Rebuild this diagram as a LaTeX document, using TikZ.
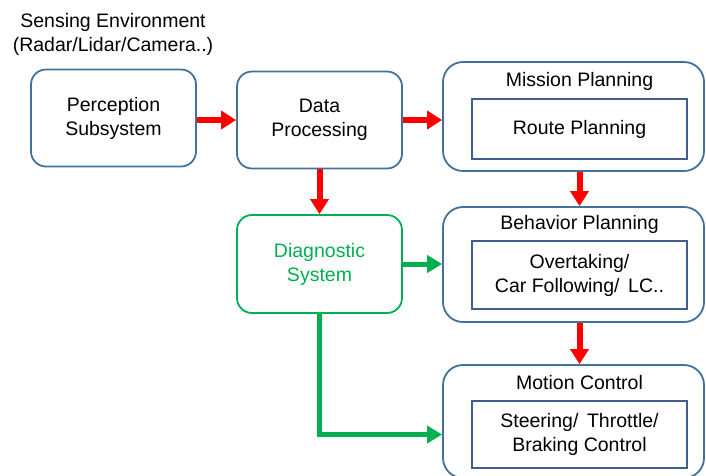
\documentclass[tikz,border=0pt]{standalone}
\usepackage{fontspec}
\setmainfont{Liberation Sans}
\usetikzlibrary{arrows.meta,positioning}

\definecolor{boxblue}{HTML}{41719C}
\definecolor{innerblue}{HTML}{3F5F8C}
\definecolor{flowred}{HTML}{FF0000}
\definecolor{diaggreen}{HTML}{00B050}

\tikzset{
  txt/.style={font=\fontsize{19.5}{24}\selectfont, align=center, text=black},
  block/.style={draw=boxblue, line width=1.8pt, rounded corners=15pt,
    minimum width=165pt, minimum height=97pt, txt},
  outer/.style={draw=boxblue, line width=1.8pt, rounded corners=20pt,
    minimum width=261pt},
  inner/.style={draw=innerblue, line width=2.2pt, minimum width=215pt, txt},
  redflow/.style={draw=flowred, line width=6pt,
    -{Triangle[length=15pt,width=18pt]}},
  greenflow/.style={draw=diaggreen, line width=5pt,
    -{Triangle[length=15pt,width=17pt]}},
}

\begin{document}
\begin{tikzpicture}[x=1pt,y=-1pt]
\useasboundingbox (0,0) rectangle (706,475);

% heading above the perception block
\node[txt] (sense) at (113,34) {Sensing Environment\\(Radar/Lidar/Camera..)};

% left column blocks
\node[block] (perc) at (113.5,118) {Perception\\Subsystem};
\node[block] (data) at (319.5,120) {Data\\Processing};
\node[block, draw=diaggreen, text=diaggreen, minimum height=98pt] (diag) at (319.5,264) {Diagnostic\\System};

% planning / control stack
\node[outer, minimum height=109pt] (mission) at (573.5,116.5) {};
\node[txt] (missionT) at (579.5,81) {Mission Planning};
\node[inner, minimum height=60pt] (route) at (579.5,129) {Route Planning};

\node[outer, minimum height=115pt] (behav) at (573.5,264.5) {};
\node[txt] (behavT) at (579.5,224) {Behavior Planning};
\node[inner, minimum height=68pt] (overtake) at (579.5,275) {Overtaking/\\Car Following/\, LC..};

\node[outer, minimum height=113pt] (motion) at (573.5,421.5) {};
\node[txt] (motionT) at (579.5,383) {Motion Control};
\node[inner, minimum height=67pt] (steer) at (579.5,434.5) {Steering/\, Throttle/\\Braking Control};

% data flow
\draw[redflow] (perc.east |- data.west) -- (data.west);
\draw[redflow] (data.east) -- (data.east -| mission.west);
\draw[redflow] (data.south) -- (diag.north);
\draw[redflow] (mission.south -| route) -- (behav.north -| route);
\draw[redflow] (behav.south -| route) -- (motion.north -| route);

% diagnostic feedback
\draw[greenflow] (diag.east) -- (diag.east -| behav.west);
\coordinate (bend) at (diag.south |- steer.west);
\draw[greenflow] (diag.south) -- (bend) -- (bend -| motion.west);
\end{tikzpicture}
\end{document}
